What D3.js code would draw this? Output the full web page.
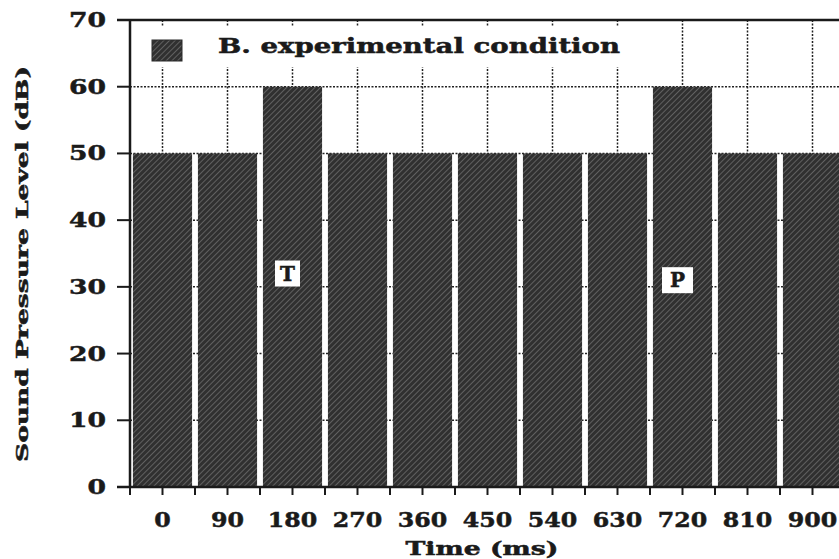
<!DOCTYPE html>
<html>
<head>
<meta charset="utf-8">
<script src="https://cdn.jsdelivr.net/npm/d3@7"></script>
<style>
  html, body { margin: 0; padding: 0; background: #fff; }
  svg { display: block; }
  text { font-family: "DejaVu Serif", serif; font-weight: bold; fill: #1a1a1a; stroke: #1a1a1a; stroke-width: 0.5; }
</style>
</head>
<body>
<svg id="chart" width="839" height="559"></svg>
<script>
// ---- data ----
const categories = ["0", "90", "180", "270", "360", "450", "540", "630", "720", "810", "900"];
const levels = [50, 50, 60, 50, 50, 50, 50, 50, 60, 50, 50];
const yTicks = [0, 10, 20, 30, 40, 50, 60, 70];
const markerLabels = ["T", "P"];
const markerTimes = ["180", "720"];
const markerLevels = [32, 31];
const legendLabel = "B. experimental condition";
const xTitle = "Time (ms)";
const yTitle = "Sound Pressure Level (dB)";

// ---- layout ----
const svg = d3.select("#chart");
const mLeft = 130, mRight = 845, mTop = 20, mBottom = 487;

const x = d3.scaleBand().domain(categories).range([mLeft, mRight])
  .paddingInner(0.09).paddingOuter(0.045);
const y = d3.scaleLinear().domain([0, 70]).range([mBottom, mTop]);

// pattern
const defs = svg.append("defs");
const pat = defs.append("pattern").attr("id", "hatch")
  .attr("patternUnits", "userSpaceOnUse").attr("width", 4).attr("height", 4)
  .attr("patternTransform", "rotate(45)");
pat.append("rect").attr("width", 4).attr("height", 4).attr("fill", "#303030");
pat.append("rect").attr("x", 0).attr("width", 1).attr("height", 4).attr("fill", "#606060");

// gridlines (horizontal)
svg.append("g").selectAll("line").data(yTicks.filter(d => d > 0 && d < 70)).join("line")
  .attr("x1", mLeft).attr("x2", 839)
  .attr("y1", d => y(d)).attr("y2", d => y(d))
  .attr("stroke", "#222").attr("stroke-width", 1.5).attr("stroke-dasharray", "2,1.5");

// gridlines (vertical at category centres)
svg.append("g").selectAll("line").data(categories).join("line")
  .attr("x1", d => x(d) + x.bandwidth() / 2).attr("x2", d => x(d) + x.bandwidth() / 2)
  .attr("y1", mTop).attr("y2", mBottom)
  .attr("stroke", "#222").attr("stroke-width", 1.5).attr("stroke-dasharray", "2,1.5");

// legend background
const legendG = svg.append("g");
legendG.append("rect").attr("x", mLeft + 2).attr("y", 27).attr("width", 520).attr("height", 40).attr("fill", "#fff");
legendG.append("rect").attr("x", 152).attr("y", 40).attr("width", 30).attr("height", 21)
  .attr("fill", "url(#hatch)").attr("stroke", "#2a2a2a").attr("stroke-width", 1);
legendG.append("text").attr("x", 218).attr("y", 53).attr("font-size", 20)
  .attr("textLength", 402).attr("lengthAdjust", "spacingAndGlyphs").text(legendLabel);

// bars
svg.append("g").selectAll("rect").data(categories).join("rect")
  .attr("x", d => x(d)).attr("width", x.bandwidth())
  .attr("y", (d, i) => y(levels[i])).attr("height", (d, i) => mBottom - y(levels[i]))
  .attr("fill", "url(#hatch)");

// axes lines
svg.append("line").attr("x1", 117).attr("x2", 839).attr("y1", mTop).attr("y2", mTop)
  .attr("stroke", "#1a1a1a").attr("stroke-width", 2.5);
svg.append("line").attr("x1", 117).attr("x2", 839).attr("y1", mBottom).attr("y2", mBottom)
  .attr("stroke", "#1a1a1a").attr("stroke-width", 2.5);
svg.append("line").attr("x1", mLeft).attr("x2", mLeft).attr("y1", mTop).attr("y2", mBottom)
  .attr("stroke", "#1a1a1a").attr("stroke-width", 2.5);

// y ticks
svg.append("g").selectAll("line").data(yTicks).join("line")
  .attr("x1", 117).attr("x2", mLeft).attr("y1", d => y(d)).attr("y2", d => y(d))
  .attr("stroke", "#1a1a1a").attr("stroke-width", 2);
svg.append("g").selectAll("text").data(yTicks).join("text")
  .attr("x", 106).attr("y", d => y(d) + 7).attr("text-anchor", "end").attr("font-size", 21)
  .attr("textLength", d => String(d).length * 18.5).attr("lengthAdjust", "spacingAndGlyphs")
  .text(d => d);

// x ticks: centres and band boundaries
const step = x.step();
const boundaries = d3.range(categories.length + 1).map(i => mLeft + i * step);
svg.append("g").selectAll("line").data(boundaries).join("line")
  .attr("x1", d => d).attr("x2", d => d).attr("y1", mBottom).attr("y2", mBottom + 8)
  .attr("stroke", "#1a1a1a").attr("stroke-width", 2);
svg.append("g").selectAll("line").data(categories).join("line")
  .attr("x1", d => x(d) + x.bandwidth() / 2).attr("x2", d => x(d) + x.bandwidth() / 2)
  .attr("y1", mBottom).attr("y2", mBottom + 8)
  .attr("stroke", "#1a1a1a").attr("stroke-width", 2);
svg.append("g").selectAll("text").data(categories).join("text")
  .attr("x", d => x(d) + x.bandwidth() / 2).attr("y", 527).attr("text-anchor", "middle")
  .attr("font-size", 21)
  .attr("textLength", d => d.length * 16.5).attr("lengthAdjust", "spacingAndGlyphs")
  .text(d => d);

// markers
markerLabels.forEach((lab, i) => {
  const cx = x(markerTimes[i]) + x.bandwidth() / 2 - 5;
  const cy = y(markerLevels[i]);
  const w = i === 0 ? 25 : 31, h = 26;
  svg.append("rect").attr("x", cx - w / 2).attr("y", cy - h / 2).attr("width", w).attr("height", h)
    .attr("fill", "#fff");
  svg.append("text").attr("x", cx).attr("y", cy + 7).attr("text-anchor", "middle")
    .attr("font-size", 20).text(lab);
});

// axis titles
svg.append("text").attr("x", 482).attr("y", 555).attr("text-anchor", "middle")
  .attr("font-size", 18).attr("textLength", 153).attr("lengthAdjust", "spacingAndGlyphs").text(xTitle);
svg.append("text").attr("transform", "translate(28,264) rotate(-90)").attr("text-anchor", "middle")
  .attr("font-size", 17).attr("textLength", 396).attr("lengthAdjust", "spacingAndGlyphs").text(yTitle);
</script>
</body>
</html>
